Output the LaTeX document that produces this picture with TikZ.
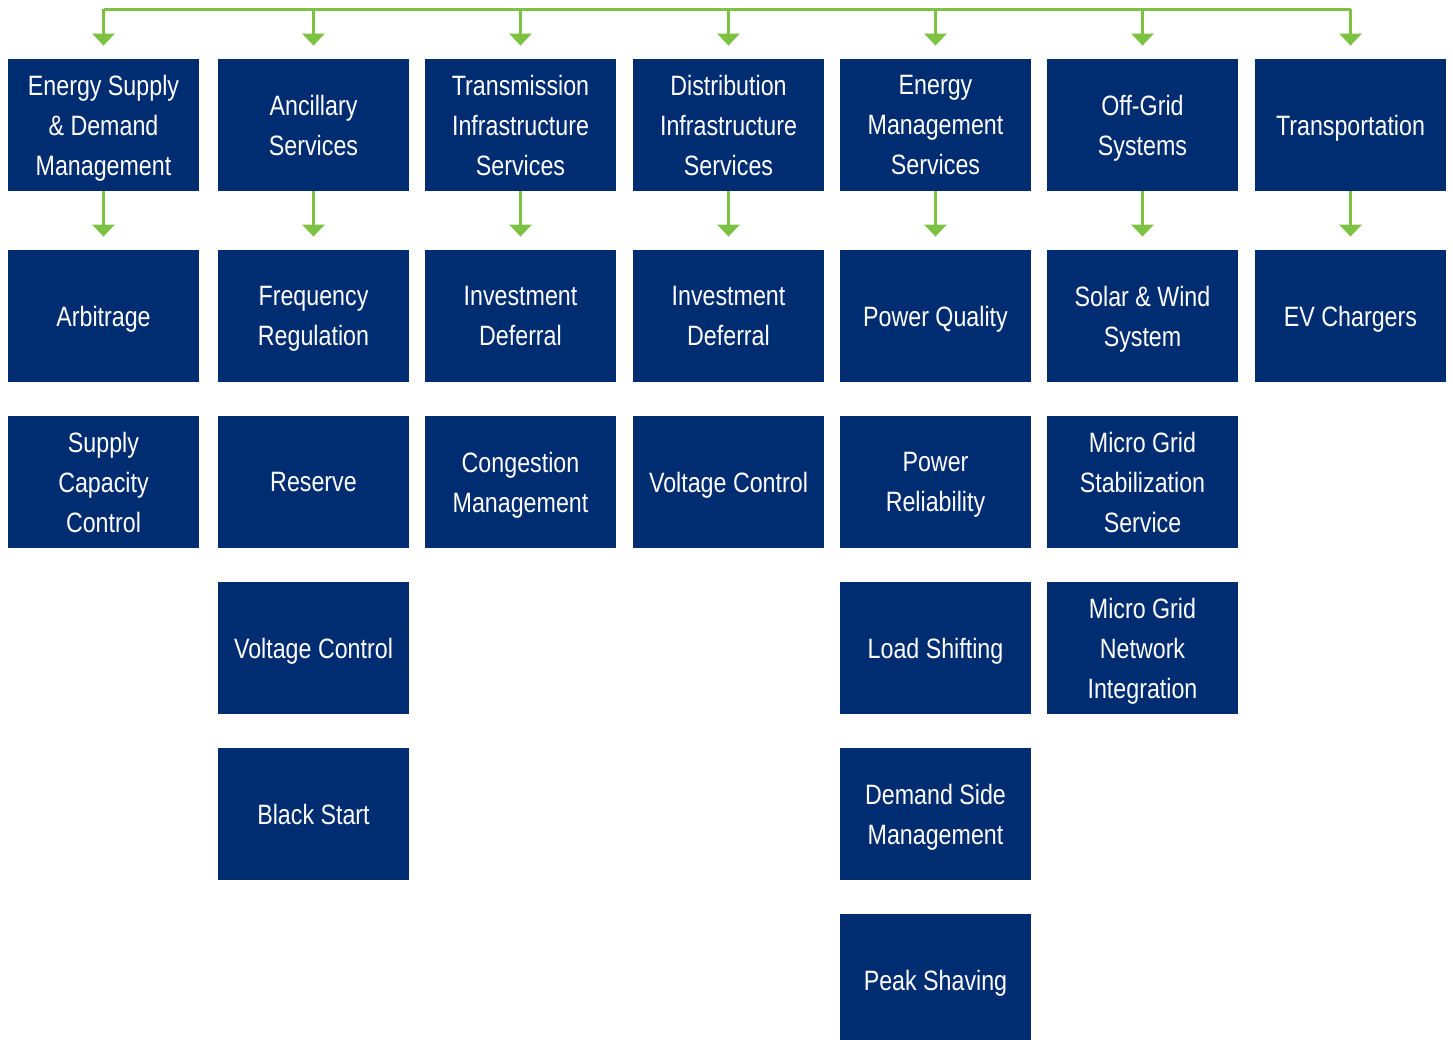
\documentclass[tikz,border=0pt]{standalone}
\usepackage{fontspec}
\setmainfont{Liberation Sans}[FakeStretch=0.83]
\usetikzlibrary{arrows.meta}
\definecolor{navy}{HTML}{002D72}
\definecolor{leaf}{HTML}{7DC242}

\begin{document}
\begin{tikzpicture}[x=0.5pt, y=-0.5pt,
		box/.style={fill=navy, text=white, align=center, inner sep=0pt,
			minimum width=95.5pt, minimum height=66pt, text depth=0pt,
			font=\fontsize{14}{20}\selectfont},
		link/.style={leaf, line width=1.5pt, -{Triangle[width=11pt,length=6pt]}, shorten >=6.5pt}
		]
	\useasboundingbox (0,0) rectangle (1453,1040);
	% first row
	\node [box] (esd) at (103.5,125) {Energy Supply\\\& Demand\\Management};
	\node [box] (anc) at (313.5,125) {Ancillary\\Services};
	\node [box] (tis) at (520.5,125) {Transmission\\Infrastructure\\Services};
	\node [box] (dis) at (728.5,125) {Distribution\\Infrastructure\\Services};
	\node [box] (ems) at (935.5,125) {Energy\\Management\\Services};
	\node [box] (ogs) at (1142.5,125) {Off-Grid\\Systems};
	\node [box] (trn) at (1350.5,125) {Transportation};
	% second row
	\node [box] (arb) at (103.5,316) {Arbitrage};
	\node [box] (frq) at (313.5,316) {Frequency\\Regulation};
	\node [box] (tid) at (520.5,316) {Investment\\Deferral};
	\node [box] (did) at (728.5,316) {Investment\\Deferral};
	\node [box] (pq)  at (935.5,316) {Power Quality};
	\node [box] (sws) at (1142.5,316) {Solar \& Wind\\System};
	\node [box] (evc) at (1350.5,316) {EV Chargers};
	% the rest
	\node [box] (scc) at (103.5,482) {Supply\\Capacity\\Control};
	\node [box] (res) at (313.5,482) {Reserve};
	\node [box] (avc) at (313.5,648) {Voltage Control};
	\node [box] (bls) at (313.5,814) {Black Start};
	\node [box] (cgm) at (520.5,482) {Congestion\\Management};
	\node [box] (dvc) at (728.5,482) {Voltage Control};
	\node [box] (prl) at (935.5,482) {Power\\Reliability};
	\node [box] (lsh) at (935.5,648) {Load Shifting};
	\node [box] (dsm) at (935.5,814) {Demand Side\\Management};
	\node [box] (psh) at (935.5,980) {Peak Shaving};
	\node [box] (mgs) at (1142.5,482) {Micro Grid\\Stabilization\\Service};
	\node [box] (mgn) at (1142.5,648) {Micro Grid\\Network\\Integration};

	\foreach \h/\s in {esd/arb, anc/frq, tis/tid, dis/did, ems/pq, ogs/sws, trn/evc} {
		\coordinate (top-\h) at (\h |- 0,9);
		\draw [link] (top-\h) -- (\h.north);
		\draw [link] (\h) -- (\s);
	}
	\draw [leaf, line width=1.5pt] (top-esd) -- (top-trn);
\end{tikzpicture}
\end{document}
